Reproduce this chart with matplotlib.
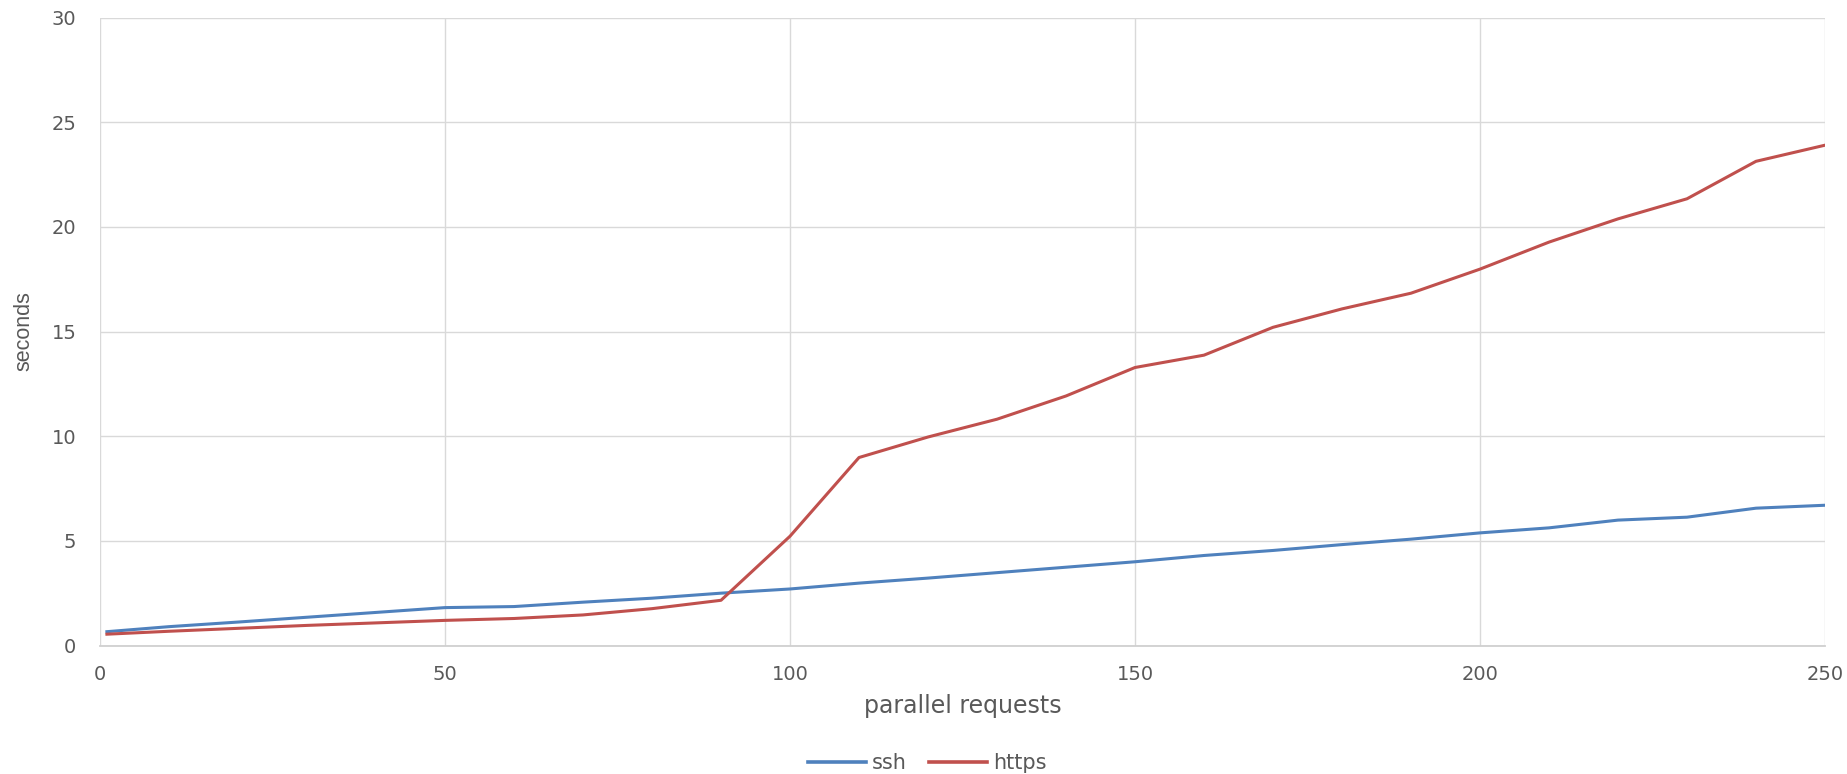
import matplotlib
matplotlib.use("Agg")
import matplotlib.pyplot as plt
from matplotlib.ticker import MultipleLocator

x = [1, 10, 20, 30, 40, 50, 60, 70, 80, 90, 100, 110, 120, 130, 140, 150,
     160, 170, 180, 190, 200, 210, 220, 230, 240, 250]
ssh = [0.66, 0.9, 1.12, 1.35, 1.58, 1.81, 1.86, 2.07, 2.26, 2.5, 2.7, 2.98,
       3.22, 3.48, 3.74, 4.0, 4.3, 4.54, 4.82, 5.08, 5.38, 5.62, 5.99, 6.13,
       6.56, 6.70]
https = [0.54, 0.68, 0.82, 0.96, 1.08, 1.2, 1.29, 1.46, 1.76, 2.16, 5.22, 8.98,
         9.96, 10.81, 11.92, 13.28, 13.87, 15.2, 16.08, 16.83, 17.98, 19.27,
         20.38, 21.34, 23.13, 23.9]
series_names = ["ssh", "https"]
x_label = "parallel requests"
y_label = "seconds"

W, H = 1847, 774
fig = plt.figure(figsize=(W / 100, H / 100), dpi=100)
ax = fig.add_axes([100 / W, 1 - 645.5 / H, 1725 / W, 628 / H])

ax.plot(x, ssh, color="#4F81BD", lw=2.2, label=series_names[0], solid_joinstyle="round")
ax.plot(x, https, color="#C0504D", lw=2.2, label=series_names[1], solid_joinstyle="round")

ax.set_xlim(0, 250)
ax.set_ylim(0, 30)
ax.xaxis.set_major_locator(MultipleLocator(50))
ax.yaxis.set_major_locator(MultipleLocator(5))
ax.grid(True, color="#D9D9D9", lw=1)
ax.set_axisbelow(True)
for s in ["top", "right", "left"]:
    ax.spines[s].set_visible(False)
ax.spines["bottom"].set_color("#D0D0D0")
ax.spines["bottom"].set_linewidth(1.3)
ax.tick_params(length=0, labelsize=14, colors="#595959")
ax.tick_params(axis="x", pad=14)
ax.tick_params(axis="y", pad=17)

ax.set_xlabel(x_label, fontsize=17, color="#595959", va="top")
ax.xaxis.set_label_coords(0.5, (645.5 - 694) / 628)
ax.set_ylabel(y_label, fontsize=15.5, color="#595959",
              family=["Liberation Sans", "DejaVu Sans"])
ax.yaxis.set_label_coords((34 - 100) / 1725, 0.5)

leg = fig.legend(loc="center", bbox_to_anchor=(927 / W, 1 - 763 / H), ncol=2,
                 frameon=False, fontsize=15, handlelength=2.8, columnspacing=1.1,
                 handletextpad=0.25, borderaxespad=0, borderpad=0)
for t in leg.get_texts():
    t.set_color("#595959")
for l in leg.get_lines():
    l.set_linewidth(2.6)

fig.savefig("out.png", dpi=100, facecolor="white")
